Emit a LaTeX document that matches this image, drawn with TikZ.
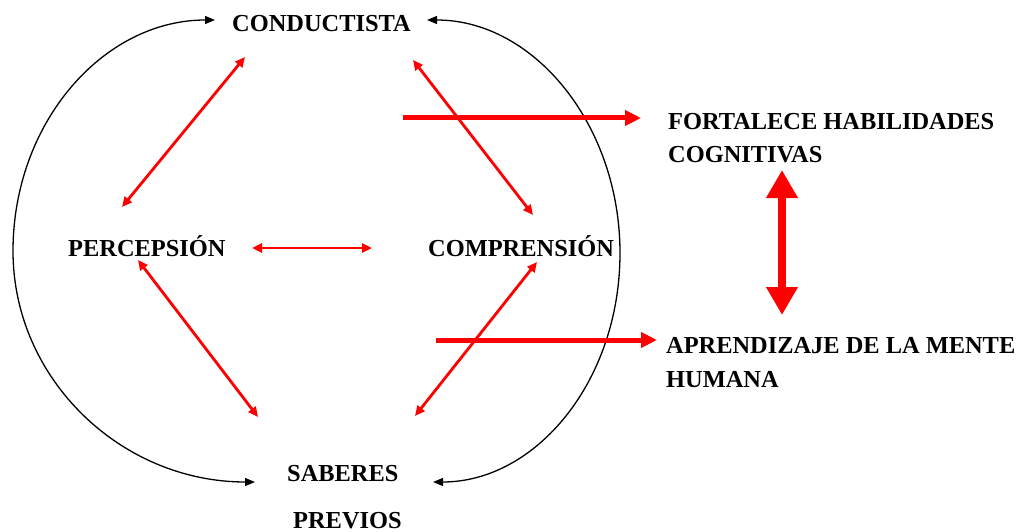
\documentclass[tikz,border=0pt]{standalone}
\usepackage{fontspec}
\setmainfont{Liberation Serif}
\usetikzlibrary{arrows.meta}
\begin{document}
\begin{tikzpicture}[x=1pt,y=-1pt,
  lbl/.style={inner sep=0pt,anchor=base west,font=\fontsize{24.4}{33}\selectfont\bfseries,align=left},
  redlink/.style={draw=red,line width=2.8pt,{Triangle[length=10pt,width=9pt]}-{Triangle[length=10pt,width=9pt]}},
  looplink/.style={draw=black,line width=1.3pt,{Triangle[length=10pt,width=8pt]}-{Triangle[length=10pt,width=8pt]}},
  bigarrow/.style={draw=red,line width=5pt,-{Triangle[length=16pt,width=15pt]}},
  dblarrow/.style={draw=red,line width=8pt,{Triangle[length=28pt,width=30pt]}-{Triangle[length=28pt,width=30pt]}}]
\useasboundingbox (0,0) rectangle (1017,532);
% nodes (base anchor = baseline of the last line)
\node[lbl] (cond) at (232,32) {CONDUCTISTA};
\node[lbl] (perc) at (68,256) {PERCEPSIÓN};
\node[lbl] (comp) at (428,256) {COMPRENSIÓN};
\node[lbl] (sab) at (287,528) {SABERES\\[14pt]\hspace*{6pt}PREVIOS};
\node[lbl] (fort) at (668,162) {FORTALECE HABILIDADES\\COGNITIVAS};
\node[lbl] (apr) at (666,387) {APRENDIZAJE DE LA MENTE\\[1pt]HUMANA};
% free ends
\coordinate (lw) at (13,251);
\coordinate (re) at (620,253);
\coordinate (s1) at (403,118);
\coordinate (s2) at (436,340);
% black loops
\draw[looplink] ([shift={(-17,-12)}]cond.base west) .. controls +(-112,0) and +(0,-128) .. (lw)
  .. controls +(0,128) and +(-134,0) .. ([shift={(-32,-46)}]sab.base west);
\draw[looplink] ([shift={(195,-12)}]cond.base west) .. controls +(107,0) and +(0,-128) .. (re)
  .. controls +(0,128) and +(103,0) .. ([shift={(146,-46)}]sab.base west);
% red links
\draw[redlink] ([shift={(13,25)}]cond.base west) -- ([shift={(54,-49)}]perc.base west);
\draw[redlink] ([shift={(181,28)}]cond.base west) -- ([shift={(105,-41)}]comp.base west);
\draw[redlink] ([shift={(184,-8)}]perc.base west) -- ([shift={(-56,-8)}]comp.base west);
\draw[redlink] ([shift={(70,4)}]perc.base west) -- ([shift={(-29,-111)}]sab.base west);
\draw[redlink] ([shift={(109,6)}]comp.base west) -- ([shift={(128,-112)}]sab.base west);
% thick arrows
\draw[bigarrow] (s1) -- ([shift={(-27,-44)}]fort.base west);
\draw[bigarrow] (s2) -- ([shift={(-9,-47)}]apr.base west);
\draw[dblarrow] ([shift={(114,8)}]fort.base west) -- ([shift={(116,-72)}]apr.base west);
\end{tikzpicture}
\end{document}
